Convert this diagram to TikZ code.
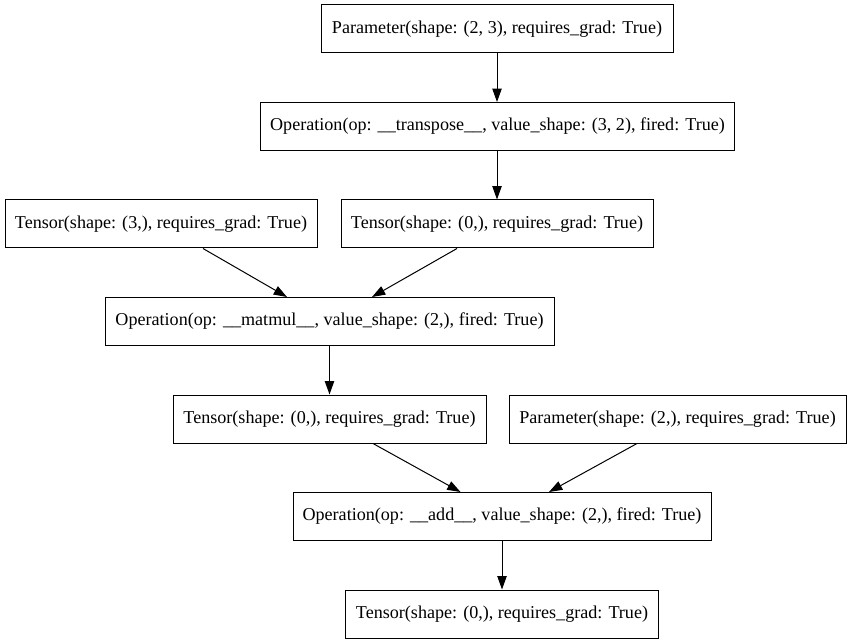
\documentclass[tikz,border=0pt]{standalone}
\usepackage{fontspec}
\setmainfont{Liberation Serif}
\usetikzlibrary{arrows.meta}
\begin{document}
\begin{tikzpicture}[x=1pt,y=-1pt,
  gbox/.style={draw,line width=1pt,minimum height=48pt,inner sep=0pt,font=\fontsize{18.1pt}{21pt}\selectfont},
  gedge/.style={draw,line width=1pt,-{Triangle[length=13.3pt,width=9.3pt]}}]
\useasboundingbox (0,0) rectangle (851,644);
\node[gbox,minimum width=352pt] (p1) at (497,29) {Parameter(shape: (2, 3), requires\_grad: True)};
\node[gbox,minimum width=474pt] (tr) at (497.5,126.5) {Operation(op: \_\_transpose\_\_, value\_shape: (3, 2), fired: True)};
\node[gbox,minimum width=312pt] (t3) at (161,224) {Tensor(shape: (3,), requires\_grad: True)};
\node[gbox,minimum width=312pt] (t4) at (497,224) {Tensor(shape: (0,), requires\_grad: True)};
\node[gbox,minimum width=449pt] (mm) at (329.5,321.5) {Operation(op: \_\_matmul\_\_, value\_shape: (2,), fired: True)};
\node[gbox,minimum width=313pt] (t6) at (329.5,419) {Tensor(shape: (0,), requires\_grad: True)};
\node[gbox,minimum width=337pt] (p7) at (677.5,419) {Parameter(shape: (2,), requires\_grad: True)};
\node[gbox,minimum width=418pt] (ad) at (502,516.5) {Operation(op: \_\_add\_\_, value\_shape: (2,), fired: True)};
\node[gbox,minimum width=313pt] (t9) at (502,614) {Tensor(shape: (0,), requires\_grad: True)};
\draw[gedge] (p1.south) -- (p1.south |- tr.north);
\draw[gedge] (t4.north |- tr.south) -- (t4.north);
\draw[gedge] ([xshift=42pt]t3.south) -- ([xshift=-42.5pt]mm.north);
\draw[gedge] ([xshift=-40pt]t4.south) -- ([xshift=42.5pt]mm.north);
\draw[gedge] (mm.south) -- (t6.north);
\draw[gedge] ([xshift=43.5pt]t6.south) -- ([xshift=-41.5pt]ad.north);
\draw[gedge] ([xshift=-40.5pt]p7.south) -- ([xshift=47pt]ad.north);
\draw[gedge] (ad.south) -- (t9.north);
\end{tikzpicture}
\end{document}
